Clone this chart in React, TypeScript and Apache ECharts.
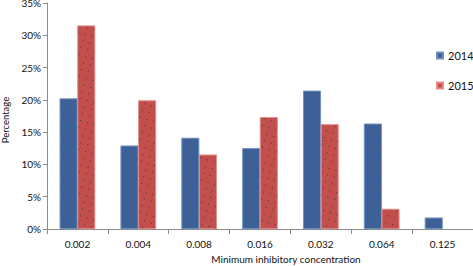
import React, { useEffect, useRef } from "react";
import * as echarts from "echarts";

const categories = ["0.002", "0.004", "0.008", "0.016", "0.032", "0.064", "0.125"];
const values2014 = [20.2, 12.9, 14.1, 12.5, 21.4, 16.3, 1.75];
const values2015: (number | string)[] = [31.5, 19.9, 11.5, 17.3, 16.2, 3.1, "-"];
const yTicks = [0, 5, 10, 15, 20, 25, 30, 35];

const FONT = "Lato, 'Open Sans', sans-serif";

export default function App() {
  const ref = useRef<HTMLDivElement>(null);
  useEffect(() => {
    if (!ref.current) return;
    const chart = echarts.init(ref.current, undefined, { renderer: "svg" });
    chart.setOption({
      animation: false,
      backgroundColor: "#fff",
      textStyle: { fontFamily: FONT },
      grid: { left: 47, right: 0, top: 3, bottom: 37, outerBoundsMode: "none", containLabel: false },
      legend: {
        orient: "vertical",
        left: 431,
        top: 45,
        itemWidth: 6,
        itemHeight: 6,
        itemGap: 19,
        icon: "rect",
        textStyle: { fontSize: 11, color: "#111", fontFamily: FONT },
        data: [
          { name: "2014", itemStyle: { decal: "none" } },
          { name: "2015", itemStyle: { decal: "none" } },
        ],
      },
      xAxis: {
        type: "category",
        data: categories,
        boundaryGap: true,
        axisLine: { lineStyle: { color: "#8c8c8c" } },
        axisTick: { show: true, length: 5, lineStyle: { color: "#8c8c8c" } },
        axisLabel: { fontSize: 10, color: "#111", margin: 10, fontFamily: FONT },
        name: "Minimum inhibitory concentration",
        nameLocation: "middle",
        nameGap: 25,
        nameTextStyle: { fontSize: 10, color: "#111", padding: [0, 0, 0, 52], fontFamily: FONT },
      },
      yAxis: {
        type: "value",
        min: yTicks[0],
        max: yTicks[yTicks.length - 1],
        interval: 5,
        splitLine: { show: false },
        axisLine: { show: true, lineStyle: { color: "#8c8c8c" } },
        axisTick: { show: true, length: 4, lineStyle: { color: "#8c8c8c" } },
        axisLabel: { fontSize: 10, color: "#111", margin: 6, formatter: "{value}%", fontFamily: FONT },
        name: "Percentage",
        nameLocation: "middle",
        nameGap: 37,
        nameRotate: 90,
        nameTextStyle: { fontSize: 9.5, color: "#111", padding: [0, 8, 0, 0], fontFamily: FONT },
      },
      series: [
        {
          name: "2014",
          type: "bar",
          data: values2014,
          barGap: "0%",
          barCategoryGap: "42%",
          itemStyle: {
            color: "#3b6198",
            borderColor: "#6f8fbd",
            borderWidth: 0.6,
            decal: {
              symbol: "rect",
              symbolSize: 1,
              color: "rgba(110,70,80,0.45)",
              dashArrayX: [1, 4],
              dashArrayY: [1, 4],
              rotation: 0,
            },
          },
        },
        {
          name: "2015",
          type: "bar",
          data: values2015,
          itemStyle: {
            color: "#c24f4c",
            borderColor: "#e38a88",
            borderWidth: 0.6,
            decal: {
              symbol: "rect",
              symbolSize: 1,
              color: "rgba(20,50,40,0.8)",
              dashArrayX: [1, 6],
              dashArrayY: [1, 6],
              rotation: 0.3,
            },
          },
        },
      ],
    });
    return () => chart.dispose();
  }, []);
  return (
    <div
      ref={ref}
      style={{ position: "absolute", left: 0, top: 0, width: 473, height: 266 }}
    />
  );
}
